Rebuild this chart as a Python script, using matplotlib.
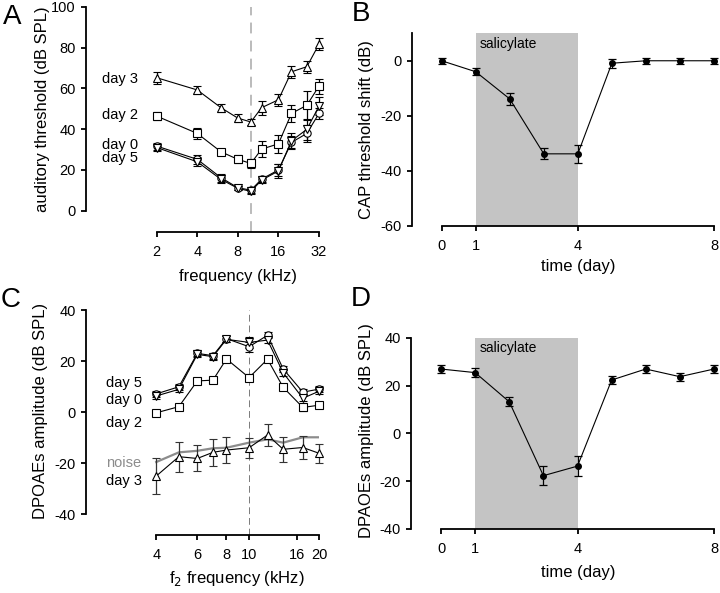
import matplotlib
matplotlib.use('Agg')
import matplotlib.pyplot as plt
from matplotlib.ticker import FixedLocator, FixedFormatter, NullLocator

plt.rcParams['font.family'] = ['Liberation Sans', 'DejaVu Sans']
plt.rcParams['axes.unicode_minus'] = False

# ---------------- data ----------------
# Panel A: auditory threshold (dB SPL) vs frequency (kHz)
freq_a = [2, 4, 6, 8, 10, 12, 16, 20, 26, 32]
a_day3 = [65.2, 59.2, 50.5, 45.4, 43.5, 50.5, 54.4, 68.1, 70.6, 81.6]
a_day3_err = [2.9, 2.0, 1.9, 2.0, 1.5, 3.4, 2.9, 2.9, 2.9, 3.0]
a_day2 = [46.4, 37.9, 28.9, 25.2, 23.2, 30.2, 32.8, 47.7, 51.7, 61.1]
a_day2_err = [2.0, 2.5, 1.0, 2.0, 2.0, 4.0, 4.5, 4.0, 7.0, 3.7]
a_day0 = [31.7, 25.2, 16.2, 11.3, 10.1, 15.5, 20.0, 33.5, 37.9, 47.7]
a_day0_err = [1.7, 2.3, 2.0, 1.0, 1.5, 1.5, 3.0, 3.0, 4.0, 2.5]
a_day5 = [31.0, 24.0, 15.4, 11.0, 9.5, 15.0, 19.5, 34.3, 39.9, 51.3]
a_day5_err = [1.7, 2.3, 2.0, 1.0, 1.5, 1.5, 3.3, 3.6, 5.0, 4.4]
a_ticks = [2, 4, 8, 16, 32]
a_ref_freq = 10

# Panel B: CAP threshold shift (dB) vs time (day)
days = [0, 1, 2, 3, 4, 5, 6, 7, 8]
cap_shift = [0.0, -4.0, -13.9, -33.9, -33.9, -0.9, 0.0, 0.0, 0.0]
cap_err = [1.0, 1.3, 2.1, 2.0, 3.4, 1.6, 1.0, 1.0, 1.0]
day_ticks = [0, 1, 4, 8]
salicylate_period = [1, 4]

# Panel C: DPOAE amplitude (dB SPL) vs f2 frequency (kHz)
f2 = [4, 5, 6, 7, 8, 10, 12, 14, 17, 20]
c_day0 = [7.1, 9.9, 23.0, 22.1, 28.8, 25.6, 30.1, 16.9, 7.8, 9.0]
c_day0_err = [1.2, 1.2, 1.2, 1.2, 1.2, 2.0, 1.2, 1.2, 1.2, 1.2]
c_day5 = [6.3, 8.9, 22.6, 21.7, 28.5, 27.3, 28.2, 15.4, 5.4, 8.2]
c_day5_err = [1.2, 1.2, 1.2, 1.2, 1.2, 2.0, 1.2, 1.2, 1.2, 1.2]
c_day2 = [-0.3, 2.1, 12.2, 12.5, 20.8, 13.5, 20.7, 9.7, 1.8, 2.7]
c_day2_err = [1.2, 1.2, 1.2, 1.2, 1.2, 1.5, 1.2, 1.2, 1.5, 1.2]
c_day3 = [-25.1, -17.5, -18.2, -15.8, -14.9, -14.0, -9.0, -14.6, -13.9, -16.2]
c_day3_err = [6.9, 5.9, 5.1, 5.2, 5.0, 4.0, 4.2, 4.8, 4.6, 3.7]
c_noise = [-19.6, -15.8, -15.2, -14.2, -14.0, -12.0, -10.7, -12.0, -9.9, -9.9]
c_ticks = [4, 6, 8, 10, 16, 20]
c_ref_freq = 10

# Panel D: DPOAE amplitude (dB SPL) vs time (day)
dp_amp = [26.9, 25.4, 13.2, -17.7, -13.7, 22.3, 26.9, 23.7, 26.9]
dp_err = [1.6, 1.9, 1.8, 4.0, 4.2, 1.5, 1.7, 1.7, 1.7]

# ---------------- figure ----------------
W, H = 720, 593
fig = plt.figure(figsize=(W / 100, H / 100), dpi=100)


def px_axes(l, t, r, b):
    return fig.add_axes([l / W, 1 - b / H, (r - l) / W, (b - t) / H])


def fxy(x, y):
    return x / W, 1 - y / H


SP_LW = 1.3
TICK_FS = 10.5
LAB_FS = 12


def style(ax, xb, yb):
    for s in ['top', 'right']:
        ax.spines[s].set_visible(False)
    ax.spines['left'].set_bounds(*yb)
    ax.spines['bottom'].set_bounds(*xb)
    for s in ['left', 'bottom']:
        ax.spines[s].set_linewidth(SP_LW)
    ax.tick_params(direction='out', length=3.5, width=SP_LW, labelsize=TICK_FS)
    ax.tick_params(axis='x', pad=6)
    ax.tick_params(axis='y', pad=4)
    ax.patch.set_visible(False)


eb_kw = dict(color='black', lw=0.8, capsize=2.6, elinewidth=0.9, capthick=0.9)

# ---- Panel A ----
axA = px_axes(86, 6.7, 319, 232)
axA.set_xscale('log', base=2)
axA.set_xlim(0.598, 32)
axA.set_ylim(-10.4, 100)
axA.axvline(a_ref_freq, color='#b5b5b5', lw=1.3, ls=(0, (6, 4)), zorder=0)
for y, e, m in [(a_day3, a_day3_err, '^'), (a_day2, a_day2_err, 's'),
                (a_day0, a_day0_err, 'o'), (a_day5, a_day5_err, 'v')]:
    axA.errorbar(freq_a, y, yerr=e, marker=m, ms=5.3, mfc='white', mec='black', mew=0.8,
                 clip_on=False, **eb_kw)
style(axA, (2, 32), (0, 100))
axA.xaxis.set_major_locator(FixedLocator(a_ticks))
axA.xaxis.set_major_formatter(FixedFormatter([str(t) for t in a_ticks]))
axA.xaxis.set_minor_locator(NullLocator())
axA.set_yticks([0, 20, 40, 60, 80, 100])
for lab, ypx in [('day 3', 79), ('day 2', 115), ('day 0', 145), ('day 5', 158)]:
    fig.text(*fxy(102, ypx), lab, fontsize=TICK_FS, ha='left', va='center')
fig.text(*fxy(43, 109), 'auditory threshold (dB SPL)', rotation=90, fontsize=LAB_FS,
         ha='center', va='center')
fig.text(*fxy(238, 277), 'frequency (kHz)', fontsize=LAB_FS, ha='center', va='center')

# ---- Panel B ----
axB = px_axes(411.7, 33.3, 714, 225.5)
axB.set_xlim(-0.88, 8)
axB.set_ylim(-60, 10)
axB.axvspan(salicylate_period[0], salicylate_period[1], color='#c4c4c4', lw=0, zorder=0)
axB.errorbar(days, cap_shift, yerr=cap_err, marker='o', ms=4, mfc='black', mec='black',
             clip_on=False, **eb_kw)
style(axB, (0, 8), (-60, 10))
axB.set_xticks(day_ticks)
axB.set_yticks([-60, -40, -20, 0])
axB.text(1.12, 6.2, 'salicylate', fontsize=10, ha='left', va='center')
fig.text(*fxy(366, 130), 'CAP threshold shift (dB)', rotation=90, fontsize=LAB_FS,
         ha='center', va='center')
fig.text(*fxy(578, 267), 'time (day)', fontsize=LAB_FS, ha='center', va='center')

# ---- Panel C ----
axC = px_axes(86, 310, 319.3, 535)
axC.set_xscale('log')
axC.set_xlim(2.0, 20)
axC.set_ylim(-48.2, 40)
axC.axvline(c_ref_freq, color='#7a7a7a', lw=0.7, ls=(0, (7, 4)), zorder=0)
axC.plot(f2, c_noise, color='#8c8c8c', lw=1.6, zorder=1)
for y, e, m in [(c_day0, c_day0_err, 'o'), (c_day5, c_day5_err, 'v'),
                (c_day2, c_day2_err, 's')]:
    axC.errorbar(f2, y, yerr=e, marker=m, ms=5.3, mfc='white', mec='black', mew=0.8,
                 clip_on=False, **eb_kw)
axC.errorbar(f2, c_day3, yerr=c_day3_err, marker='^', ms=5.3, mfc='white', mec='black',
             mew=0.8, color='black', lw=0.8, capsize=2.6, elinewidth=0.9, capthick=0.9,
             ecolor='#333333', clip_on=False, zorder=3)
style(axC, (4, 20), (-40, 40))
axC.xaxis.set_major_locator(FixedLocator(c_ticks))
axC.xaxis.set_major_formatter(FixedFormatter([str(t) for t in c_ticks]))
axC.xaxis.set_minor_locator(NullLocator())
axC.set_yticks([-40, -20, 0, 20, 40])
for lab, ypx, col in [('day 5', 383, 'black'), ('day 0', 400, 'black'),
                      ('day 2', 423, 'black'), ('noise', 463, '#8c8c8c'),
                      ('day 3', 481, 'black')]:
    fig.text(*fxy(106, ypx), lab, fontsize=TICK_FS, ha='left', va='center', color=col)
fig.text(*fxy(41, 411), 'DPOAEs amplitude (dB SPL)', rotation=90, fontsize=LAB_FS,
         ha='center', va='center')
fig.text(*fxy(237, 579), r'f$_2$ frequency (kHz)', fontsize=LAB_FS, ha='center', va='center')

# ---- Panel D ----
axD = px_axes(411, 337.7, 714, 529)
axD.set_xlim(-0.88, 8)
axD.set_ylim(-40, 40)
axD.axvspan(salicylate_period[0], salicylate_period[1], color='#c4c4c4', lw=0, zorder=0)
axD.errorbar(days, dp_amp, yerr=dp_err, marker='o', ms=4, mfc='black', mec='black',
             clip_on=False, **eb_kw)
style(axD, (0, 8), (-40, 40))
axD.set_xticks(day_ticks)
axD.set_yticks([-40, -20, 0, 20, 40])
axD.text(1.12, 35.6, 'salicylate', fontsize=10, ha='left', va='center')
fig.text(*fxy(366, 431), 'DPAOEs amplitude (dB SPL)', rotation=90, fontsize=LAB_FS,
         ha='center', va='center')
fig.text(*fxy(578, 572), 'time (day)', fontsize=LAB_FS, ha='center', va='center')

# ---- panel letters ----
for lab, x, y in [('A', 12, 17), ('B', 361, 14), ('C', 11, 300), ('D', 361, 299)]:
    fig.text(*fxy(x, y), lab, fontsize=20, ha='center', va='center')

fig.savefig('out.png', dpi=100)
